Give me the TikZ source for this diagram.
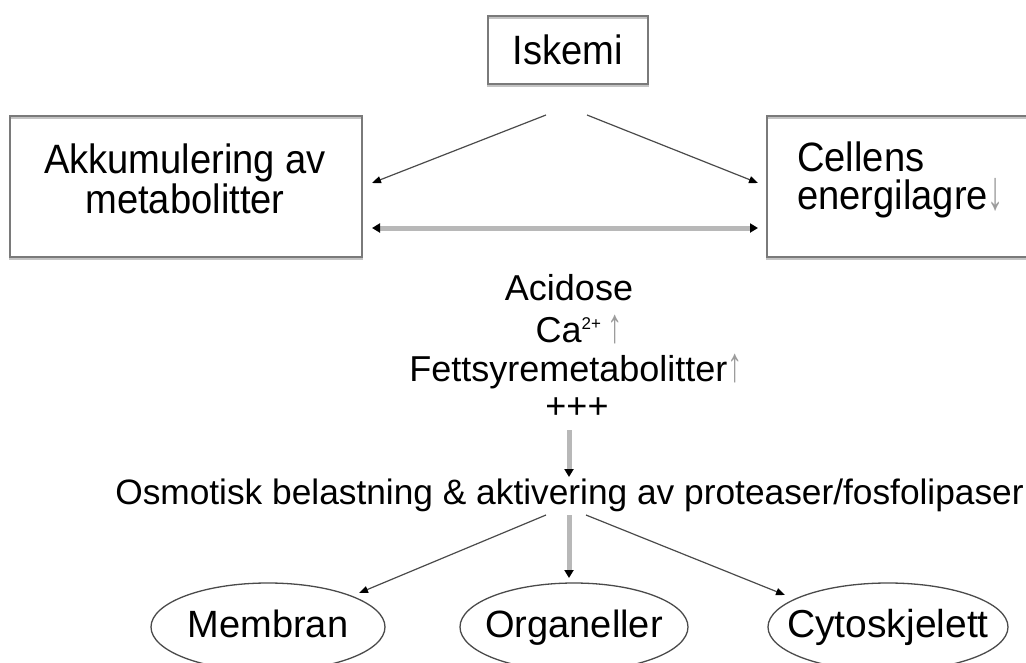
\documentclass[tikz,border=0pt]{standalone}
\usepackage{fontspec}
\setmainfont{Liberation Sans}
\newfontfamily\boxfont[FakeStretch=0.93]{Liberation Sans}
\usetikzlibrary{arrows.meta,shapes.geometric}
\definecolor{boxline}{HTML}{7A7A7A}
\definecolor{boxshade}{HTML}{C4C4C4}
\definecolor{thickgray}{HTML}{B8B8B8}
\definecolor{thinline}{HTML}{4A4A4A}
\definecolor{trend}{HTML}{9C9C9C}
\newcommand{\up}{\textcolor{trend}{\scalebox{0.85}[1.35]{↑}}}
\newcommand{\down}{\textcolor{trend}{\scalebox{0.85}[1.35]{↓}}}
\newcommand{\ionsup}[1]{\raisebox{13pt}{\fontsize{17}{17}\selectfont #1}}
\begin{document}
\begin{tikzpicture}[x=1pt,y=-1pt,
  every node/.style={font=\fontsize{36}{37}\selectfont, inner sep=0pt, text=black},
  boxtext/.style={font=\boxfont\fontsize{41}{38}\selectfont},
  box/.style={draw=boxline, line width=2pt,
    preaction={draw=boxshade, line width=2.5pt, transform canvas={yshift=-2pt}}},
  oval/.style={ellipse, draw=thinline, line width=1.3pt, inner xsep=-35pt,
    text height=28pt, text depth=8pt, minimum height=88pt},
  arr/.style={draw=thinline, line width=1.2pt,
    -{Triangle[length=9pt,width=7pt,color=black]}},
  garr/.style={draw=thickgray, line width=5pt,
    -{Triangle[length=8pt,width=9pt,color=black]}},
  gdarr/.style={draw=thickgray, line width=5pt,
    {Triangle[length=8pt,width=9pt,color=black]}-{Triangle[length=8pt,width=9pt,color=black]}}]
\useasboundingbox (0,0) rectangle (1026,662);

% top level: cause and the two primary effects
\node[box, boxtext, minimum width=160pt, minimum height=68pt] (isk) at (568,50) {Iskemi};
\node[box, minimum width=352pt, minimum height=141pt] (akk) at (186,186) {};
\node[boxtext, anchor=north, align=center] (akktxt) at (185,144)
  {Akkumulering av\\metabolitter};
\node[box, minimum width=280pt, minimum height=141pt] (cel) at (907,186) {};
\node[boxtext, anchor=north west, align=left] (celtxt) at (797,142)
  {Cellens\\energilagre\down};

% intermediate factors
\node (acid) at (569,288) {Acidose};
\node (ca) at (579,330) {Ca\ionsup{2+}\,\up};
\node (fett) at (576,372) {Fettsyremetabolitter\up};
\node (plus) at (577,408) {+++};

\node[font=\fontsize{35.3}{36}\selectfont] (osm) at (569.5,495)
  {Osmotisk belastning \& aktivering av proteaser/fosfolipaser};

% affected structures
\node[oval, font=\fontsize{38}{38}\selectfont, minimum width=234pt] (mem) at (268,627) {Membran};
\node[oval, font=\fontsize{38}{38}\selectfont, minimum width=228pt] (org) at (574,627) {Organeller};
\node[oval, font=\fontsize{39}{39}\selectfont, minimum width=240pt] (cyt) at (888,627) {Cytoskjelett};

% connector end points
\coordinate (iskL) at (546,115);
\coordinate (iskR) at (587,115);
\coordinate (akkIn) at (372,183);
\coordinate (celIn) at (758,183);
\coordinate (akkMid) at (372,228);
\coordinate (celMid) at (758,228);
\coordinate (plusOut) at (569,430);
\coordinate (osmIn) at (569,477);
\coordinate (osmL) at (546,515);
\coordinate (osmM) at (569,515);
\coordinate (osmR) at (586,515);
\coordinate (memIn) at (359,593);
\coordinate (orgIn) at (569,578);
\coordinate (cytIn) at (785,595);

\draw[arr] (iskL) -- (akkIn);
\draw[arr] (iskR) -- (celIn);
\draw[gdarr] (akkMid) -- (celMid);
\draw[garr] (plusOut) -- (osmIn);
\draw[arr] (osmL) -- (memIn);
\draw[garr] (osmM) -- (orgIn);
\draw[arr] (osmR) -- (cytIn);
\end{tikzpicture}
\end{document}
